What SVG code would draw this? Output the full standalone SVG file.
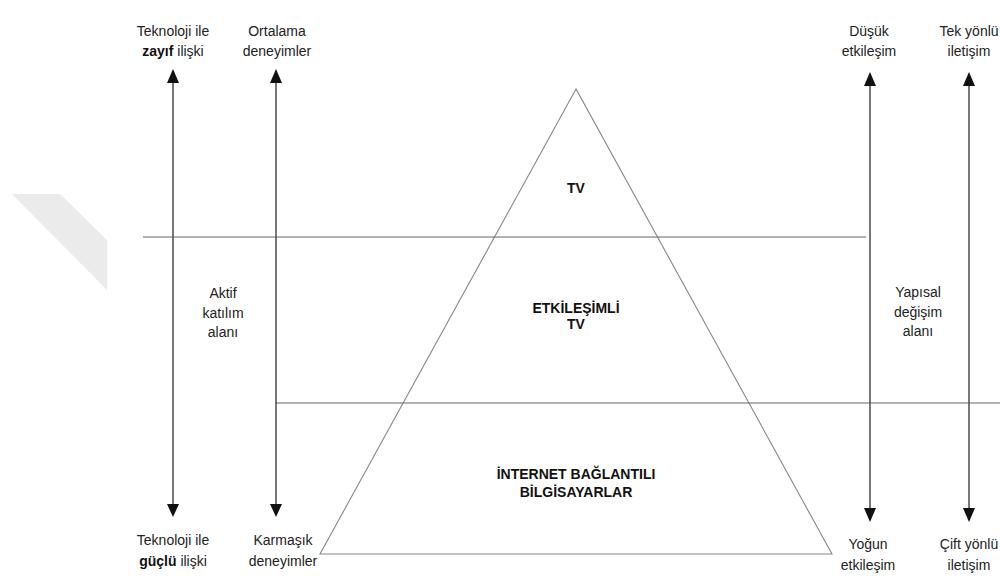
<svg xmlns="http://www.w3.org/2000/svg" width="1000" height="577" viewBox="0 0 1000 577">
<style>
.t{font-family:"Liberation Sans",Arial,sans-serif;font-size:14px;fill:#222;text-anchor:middle}
.b{font-weight:bold;fill:#111}
.v{stroke:#555;stroke-width:1.6;fill:none}
.h{stroke:#666;stroke-width:1.2;fill:none}
.tri{stroke:#888;stroke-width:1.1;fill:none}
.ah{fill:#111}
</style>
<rect width="1000" height="577" fill="#fff"/>
<polygon points="12,194 60,194 107,240 107,290" fill="#ebebeb"/>
<g id="pyramid">
<polygon class="tri" points="576,89 320,554 832,554"/>
</g>
<g id="connectors">
<line class="h" x1="143" y1="237" x2="866" y2="237"/>
<line class="h" x1="275" y1="403" x2="1000" y2="403"/>
<line class="v" x1="173" y1="82" x2="173" y2="506"/>
<line class="v" x1="276" y1="82" x2="276" y2="506"/>
<line class="v" x1="870" y1="85" x2="870" y2="510"/>
<line class="v" x1="969" y1="85" x2="969" y2="510"/>
<polygon class="ah" points="173,69 167,83 179,83"/>
<polygon class="ah" points="173,517 167,504 179,504"/>
<polygon class="ah" points="276,69 270,83 282,83"/>
<polygon class="ah" points="276,517 270,504 282,504"/>
<polygon class="ah" points="870,72 864,86 876,86"/>
<polygon class="ah" points="870,522 864,508 876,508"/>
<polygon class="ah" points="969,72 963,86 975,86"/>
<polygon class="ah" points="969,522 963,508 975,508"/>
</g>
<g id="tl"><text class="t" x="173" y="36">Teknoloji ile</text><text class="t" x="173" y="56"><tspan class="b">zayıf</tspan> ilişki</text></g>
<g id="tm"><text class="t" x="277" y="36">Ortalama</text><text class="t" x="277" y="56">deneyimler</text></g>
<g id="tr1"><text class="t" x="869" y="36">Düşük</text><text class="t" x="869" y="56">etkileşim</text></g>
<g id="tr2"><text class="t" x="969" y="36">Tek yönlü</text><text class="t" x="969" y="56">iletişim</text></g>
<g id="bl"><text class="t" x="173" y="545">Teknoloji ile</text><text class="t" x="173" y="566"><tspan class="b">güçlü</tspan> ilişki</text></g>
<g id="bm"><text class="t" x="283" y="545">Karmaşık</text><text class="t" x="283" y="566">deneyimler</text></g>
<g id="br1"><text class="t" x="868" y="549">Yoğun</text><text class="t" x="868" y="570">etkileşim</text></g>
<g id="br2"><text class="t" x="969" y="549">Çift yönlü</text><text class="t" x="969" y="570">iletişim</text></g>
<g id="aktif"><text class="t" x="223" y="298">Aktif</text><text class="t" x="223" y="318">katılım</text><text class="t" x="223" y="337">alanı</text></g>
<g id="yapisal"><text class="t" x="918" y="297">Yapısal</text><text class="t" x="918" y="317">değişim</text><text class="t" x="918" y="336">alanı</text></g>
<g id="tv"><text class="t b" x="576" y="193">TV</text></g>
<g id="itv"><text class="t b" x="576" y="313">ETKİLEŞİMLİ</text><text class="t b" x="576" y="329">TV</text></g>
<g id="inet"><text class="t b" x="576" y="479">İNTERNET BAĞLANTILI</text><text class="t b" x="576" y="497">BİLGİSAYARLAR</text></g>
</svg>
